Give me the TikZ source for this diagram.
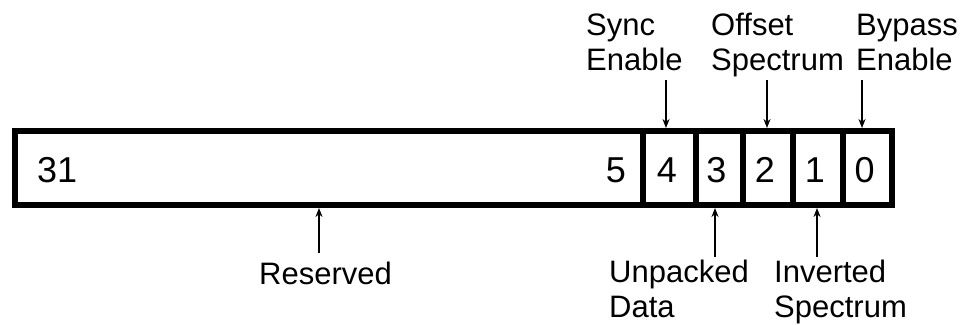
\documentclass[tikz,border=0pt]{standalone}
\usepackage{fontspec}
\setmainfont{Liberation Sans}
\usetikzlibrary{arrows.meta}
\begin{document}
\begin{tikzpicture}[x=1pt,y=-1pt,
  cell/.style={draw=black,line width=6pt,minimum height=74pt,inner sep=0pt,anchor=west},
  digit/.style={font=\fontsize{36}{42}\selectfont,inner sep=0pt},
  lbl/.style={font=\fontsize{31}{35}\selectfont,align=left,inner sep=0pt,anchor=base west},
  ptr/.style={line width=1.8pt,-{Stealth[length=9pt,width=7pt]}}]
\useasboundingbox (0,0) rectangle (961,324);
% register cells
\node[cell,minimum width=628pt] (c31) at (12,168) {};
\node[cell,minimum width=53pt] (c4) at (640,168) {};
\node[cell,minimum width=47pt] (c3) at (693,168) {};
\node[cell,minimum width=50pt] (c2) at (740,168) {};
\node[cell,minimum width=50pt] (c1) at (790,168) {};
\node[cell,minimum width=49pt] (c0) at (840,168) {};
% digits
\node[digit,anchor=base west] (d31) at (37,182) {31};
\node[digit,anchor=base east] (d5) at (626,182) {5};
\node[digit,anchor=base] (d4) at (667,182) {4};
\node[digit,anchor=base] (d3) at (716.5,182) {3};
\node[digit,anchor=base] (d2) at (765,182) {2};
\node[digit,anchor=base] (d1) at (815,182) {1};
\node[digit,anchor=base] (d0) at (864.5,182) {0};
% labels (anchor = baseline of last line)
\node[lbl] (lsync) at (586,70.5) {Sync\\Enable};
\node[lbl] (loff) at (711,70.5) {Offset\\Spectrum};
\node[lbl] (lbyp) at (856,70.5) {Bypass\\Enable};
\node[lbl] (lunp) at (609,317) {Unpacked\\Data};
\node[lbl] (linv) at (774,317) {Inverted\\Spectrum};
\node[lbl] (lres) at (259,284) {Reserved};
% arrow start points
\coordinate (async) at (666,80);
\coordinate (aoff) at (767,80);
\coordinate (abyp) at (862,80);
\coordinate (aunp) at (715,257);
\coordinate (ainv) at (817,257);
\coordinate (ares) at (319,253);
\draw[ptr] (async) -- (async |- c4.north);
\draw[ptr] (aoff) -- (aoff |- c2.north);
\draw[ptr] (abyp) -- (abyp |- c0.north);
\draw[ptr] (aunp) -- (aunp |- c3.south);
\draw[ptr] (ainv) -- (ainv |- c1.south);
\draw[ptr] (ares) -- (ares |- c31.south);
\end{tikzpicture}
\end{document}
